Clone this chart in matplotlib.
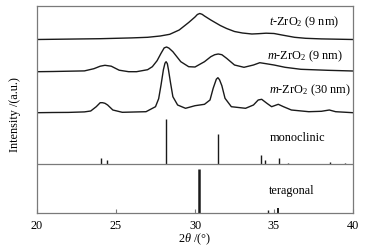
import matplotlib
matplotlib.use("Agg")
import matplotlib.pyplot as plt

plt.rcParams['font.family'] = ['Liberation Serif', 'DejaVu Serif']
plt.rcParams['mathtext.fontset'] = 'custom'
plt.rcParams['mathtext.rm'] = 'Liberation Serif'
plt.rcParams['mathtext.it'] = 'Liberation Serif:italic'

# ---- data ----
t9_x = [20, 21, 22, 23, 24, 25, 26, 27, 27.8, 28.4, 29.0, 29.6, 30.0, 30.15, 30.3, 30.45,
        30.6, 31.0, 31.6, 32.0, 32.5, 33.0, 33.6, 34.0, 34.5, 35.0, 35.5, 36.3, 37.0, 38.0,
        39.0, 40.0]
t9_y = [0, 0.2, 0.4, 0.6, 0.8, 1.2, 1.6, 2.2, 3.5, 5.2, 9.5, 17, 22.5, 25, 26, 25.2,
        23.5, 19.5, 14, 11, 8, 6.5, 5.5, 5.8, 6.3, 6, 4.5, 2.2, 1.2, 0.6,
        0.3, 0]

m9_x = [20, 21, 22, 23, 23.6, 24.0, 24.3, 24.7, 25.2, 25.8, 26.3, 27.0, 27.3, 27.6, 27.85,
        28.05, 28.2, 28.35, 28.6, 29.1, 29.6, 30.0, 30.6, 31.0, 31.25, 31.47, 31.7, 32.0,
        32.5, 33.1, 33.7, 34.1, 34.5, 35.0, 35.7, 36.7, 38.4, 40.0]
m9_y = [0, 0.2, 0.5, 0.8, 3, 5.5, 6.4, 5.5, 1.5, 0, 0, 2, 5, 11, 18.4,
        23.8, 24.7, 23.6, 20, 10, 5, 4.7, 10, 15, 17, 17.7, 17, 13.4,
        6.7, 4.4, 6.7, 9, 8, 6.7, 4.4, 2.4, 1.4, 0.7]

m30_x = [20, 21, 22, 23, 23.4, 23.75, 24.0, 24.15, 24.3, 24.47, 24.8, 25.4, 26.9, 27.5,
         27.7, 27.85, 28.0, 28.1, 28.17, 28.25, 28.32, 28.45, 28.6, 28.9, 29.4, 30.0, 30.6,
         30.95, 31.15, 31.35, 31.45, 31.55, 31.7, 31.9, 32.3, 33.2, 33.7, 34.0, 34.22,
         34.55, 34.85, 35.27, 35.6, 36.1, 37.2, 38.0, 38.5, 38.9, 40.0]
m30_y = [0, 0.2, 0.3, 0.8, 1.7, 6, 10, 10, 9.4, 7.7, 2.7, 0.4, 1, 6,
         14, 27.7, 43, 49.5, 51, 49, 43, 30, 16, 7.7, 4.4, 7, 8.4,
         12.7, 24.4, 33.5, 35, 33, 27, 14.4, 6, 4.4, 7.7, 12.7, 13.4,
         9.4, 6, 8.4, 6, 2.7, 1, 1.4, 2.7, 1, 0]

mono_pos = [24.05, 24.45, 28.17, 31.47, 34.15, 34.4, 35.3, 35.9, 38.55, 39.5]
mono_int = [15, 10, 100, 67, 21, 10, 13, 2, 4.4, 2]

tetra_pos = [30.25, 34.6, 35.25]
tetra_int = [100, 7, 11]

curve_labels = ['$\\mathit{t}$-ZrO$_2$ (9 nm)', '$\\mathit{m}$-ZrO$_2$ (9 nm)',
                '$\\mathit{m}$-ZrO$_2$ (30 nm)']
ref_labels = ['monoclinic', 'teragonal']
xticks = [20, 25, 30, 35, 40]

# ---- figure ----
W, H = 365, 249
fig = plt.figure(figsize=(W / 100, H / 100), dpi=100)
ax = fig.add_axes([37 / W, 1 - 212.7 / H, (353 - 37) / W, (212.7 - 6) / H])

line_c = '#1a1a1a'
frame_c = '#7a7a7a'

offsets = [173.2, 141.0, 100.0]
for xs, ys, off in zip([t9_x, m9_x, m30_x], [t9_y, m9_y, m30_y], offsets):
    ax.plot(xs, [v + off for v in ys], color=line_c, lw=1.0)

mono_base, mono_scale = 48.3, 45.5 / 100
tet_base, tet_scale = 0.0, 44.0 / 100
ax.vlines(mono_pos, mono_base, [mono_base + v * mono_scale for v in mono_int],
          color=line_c, lw=1.0)
ax.vlines(tetra_pos, tet_base, [tet_base + v * tet_scale for v in tetra_int],
          color=line_c, lw=[1.8, 1.0, 1.4])
ax.axhline(mono_base, color=frame_c, lw=0.9)

fs = 8.8
ax.text(34.68, 206.7 - 16.5, curve_labels[0], fontsize=fs, va='center', ha='left')
ax.text(34.53, 206.7 - 50.5, curve_labels[1], fontsize=fs, va='center', ha='left')
ax.text(34.68, 206.7 - 84, curve_labels[2], fontsize=fs, va='center', ha='left')
ax.text(34.7, 212.7 - 138.3, ref_labels[0], fontsize=fs, va='center', ha='left')
ax.text(34.7, 212.7 - 191, ref_labels[1], fontsize=fs, va='center', ha='left')

ax.set_xlim(20, 40)
ax.set_ylim(0, 206.7)
ax.set_xticks(xticks)
ax.set_xticklabels([str(v) for v in xticks])
ax.set_yticks([])
ax.tick_params(axis='x', direction='in', length=3, width=0.8, color=frame_c,
               labelsize=fs, pad=5.5)
for s in ax.spines.values():
    s.set_color(frame_c)
    s.set_linewidth(0.9)

fig.text(15 / W, 1 - 115 / H, 'Intensity /(a.u.)', rotation=90, fontsize=fs,
         ha='center', va='center')
fig.text(195 / W, 1 - 239 / H, '2$\\mathit{\\theta}$ /(°)', fontsize=fs,
         ha='center', va='center')

fig.savefig('out.png', dpi=100)
